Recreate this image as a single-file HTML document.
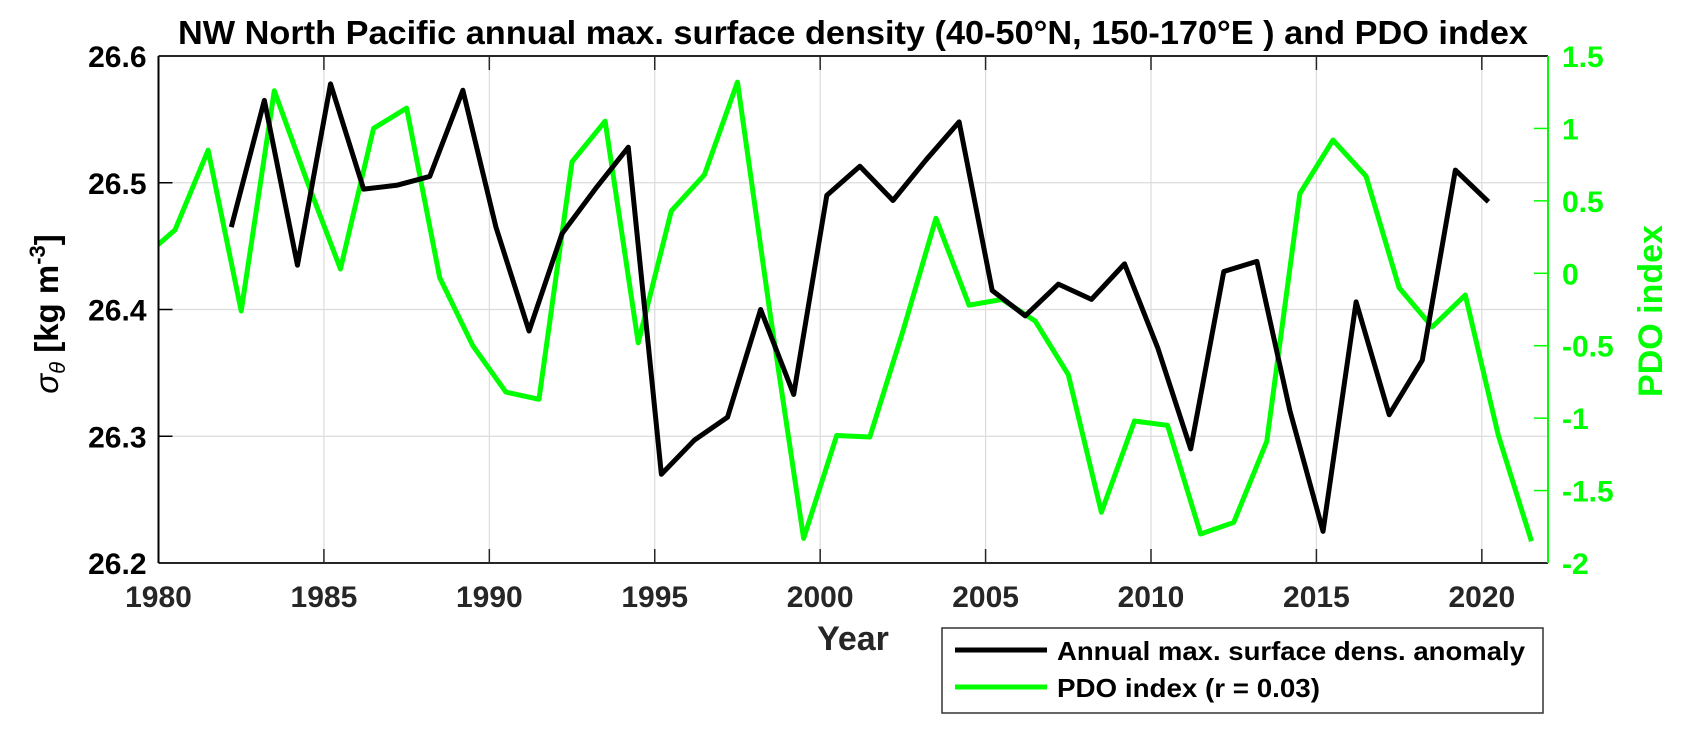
<!DOCTYPE html>
<html><head><meta charset="utf-8"><style>
body{margin:0;background:#fff;}
svg{display:block;font-family:"Liberation Sans",Arial,sans-serif;font-weight:bold;}
</style></head><body>
<svg id="chart" width="1682" height="732">
<g id="grid"></g>
<g id="series"></g>
<g id="axes"></g>
<text x="853" y="44" text-anchor="middle" font-size="33" textLength="1350" lengthAdjust="spacingAndGlyphs" fill="#000">NW North Pacific annual max. surface density (40-50°N, 150-170°E ) and PDO index</text>
<text x="853" y="650" text-anchor="middle" font-size="34" fill="#262626">Year</text>
<text transform="translate(58,314) rotate(-90)" text-anchor="middle" font-size="33" fill="#000"><tspan font-weight="normal" font-style="italic">σ</tspan><tspan font-size="22" dy="7" font-style="italic" font-weight="normal">θ</tspan><tspan dy="-7"> [kg m</tspan><tspan font-size="22" dy="-13">-3</tspan><tspan dy="13">]</tspan></text>
<text transform="translate(1662,311) rotate(-90)" text-anchor="middle" font-size="34" fill="#00ff00">PDO index</text>
<g>
<rect x="942" y="628" width="601" height="85" fill="#fff" stroke="#333" stroke-width="1.5"/>
<line x1="955" y1="650" x2="1047" y2="650" stroke="#000" stroke-width="5"/>
<text x="1057" y="660" font-size="26" textLength="468" lengthAdjust="spacingAndGlyphs" fill="#000">Annual max. surface dens. anomaly</text>
<line x1="955" y1="687" x2="1047" y2="687" stroke="#00ff00" stroke-width="5"/>
<text x="1057" y="697" font-size="26" textLength="263" lengthAdjust="spacingAndGlyphs" fill="#000">PDO index (r = 0.03)</text>
</g>
</svg>
<script>
const densYears=[1982.2,1983.2,1984.2,1985.2,1986.2,1987.2,1988.2,1989.2,1990.2,1991.2,1992.2,1993.2,1994.2,1995.2,1996.2,1997.2,1998.2,1999.2,2000.2,2001.2,2002.2,2003.2,2004.2,2005.2,2006.2,2007.2,2008.2,2009.2,2010.2,2011.2,2012.2,2013.2,2014.2,2015.2,2016.2,2017.2,2018.2,2019.2,2020.2];
const densValues=[26.465,26.565,26.435,26.578,26.495,26.498,26.505,26.573,26.465,26.383,26.46,26.495,26.528,26.27,26.297,26.315,26.4,26.333,26.49,26.513,26.486,26.518,26.548,26.415,26.395,26.42,26.408,26.436,26.37,26.29,26.43,26.438,26.32,26.225,26.406,26.317,26.36,26.51,26.485];
const pdoYears=[1979.5,1980.5,1981.5,1982.5,1983.5,1984.5,1985.5,1986.5,1987.5,1988.5,1989.5,1990.5,1991.5,1992.5,1993.5,1994.5,1995.5,1996.5,1997.5,1998.5,1999.5,2000.5,2001.5,2002.5,2003.5,2004.5,2005.5,2006.5,2007.5,2008.5,2009.5,2010.5,2011.5,2012.5,2013.5,2014.5,2015.5,2016.5,2017.5,2018.5,2019.5,2020.5,2021.5];
const pdoValues=[0.1,0.3,0.85,-0.26,1.26,0.63,0.03,1.0,1.14,-0.03,-0.5,-0.82,-0.87,0.77,1.05,-0.48,0.43,0.68,1.32,-0.3,-1.83,-1.12,-1.13,-0.4,0.38,-0.22,-0.18,-0.33,-0.7,-1.65,-1.02,-1.05,-1.8,-1.72,-1.16,0.55,0.92,0.67,-0.1,-0.37,-0.15,-1.12,-1.85];
const xTicks=[1980,1985,1990,1995,2000,2005,2010,2015,2020];
const yTicksLeft=[26.2,26.3,26.4,26.5,26.6];
const yTicksRight=[-2,-1.5,-1,-0.5,0,0.5,1,1.5];

const L=158.5,R=1548,T=56,B=563;
const xS=y=>L+(y-1980)*(R-L)/42;
const yL=v=>B-(v-26.2)*(B-T)/0.4;
const yR=v=>B-(v+2)*(B-T)/3.5;
const NS='http://www.w3.org/2000/svg';
function mk(tag,attrs,parent){const e=document.createElementNS(NS,tag);for(const k in attrs)e.setAttribute(k,attrs[k]);parent.appendChild(e);return e;}
const grid=document.getElementById('grid'),series=document.getElementById('series'),axes=document.getElementById('axes');

const defs=mk('defs',{},document.getElementById('chart'));
const cp=mk('clipPath',{id:'clip'},defs);mk('rect',{x:L,y:T,width:R-L,height:B-T},cp);

xTicks.forEach(t=>{const x=xS(t);
 const g=mk('line',{x1:x,y1:T,x2:x,y2:B,stroke:'#dcdcdc','stroke-width':1.2},grid);
 
 const k=mk('line',{x1:x,y1:B,x2:x,y2:B-14,stroke:'#262626','stroke-width':1.5},axes);
 
 const k2=mk('line',{x1:x,y1:T,x2:x,y2:T+14,stroke:'#262626','stroke-width':1.5},axes);
 
 const tx=mk('text',{x:x,y:B+44,'text-anchor':'middle','font-size':30,fill:'#262626'},axes);tx.textContent=t;
 
});
yTicksLeft.forEach(t=>{const y=yL(t);
 const g=mk('line',{x1:L,y1:y,x2:R,y2:y,stroke:'#dcdcdc','stroke-width':1.2},grid);
 
 const k=mk('line',{x1:L,y1:y,x2:L+14,y2:y,stroke:'#000','stroke-width':1.5},axes);
 
 const tx=mk('text',{x:L-12,y:y+11,'text-anchor':'end','font-size':30,fill:'#000'},axes);tx.textContent=t.toFixed(1);
 
});
yTicksRight.forEach(t=>{const y=yR(t);
 const k=mk('line',{x1:R,y1:y,x2:R-14,y2:y,stroke:'#00ff00','stroke-width':1.5},axes);
 
 const tx=mk('text',{x:R+14,y:y+11,'font-size':30,fill:'#00ff00'},axes);tx.textContent=String(t);
 
});
const bl=mk('line',{x1:L,y1:B,x2:R,y2:B,stroke:'#262626','stroke-width':2},axes);

const tl=mk('line',{x1:L,y1:T,x2:R,y2:T,stroke:'#262626','stroke-width':2},axes);

const ll=mk('line',{x1:L,y1:T,x2:L,y2:B,stroke:'#000','stroke-width':2},axes);

const rl=mk('line',{x1:R,y1:T,x2:R,y2:B,stroke:'#00ff00','stroke-width':2},axes);


const pg=mk('polyline',{points:pdoYears.map((y,i)=>xS(y)+','+yR(pdoValues[i])).join(' '),fill:'none',stroke:'#00ff00','stroke-width':5,'stroke-linejoin':'round','clip-path':'url(#clip)'},series);

const dl=mk('polyline',{points:densYears.map((y,i)=>xS(y)+','+yL(densValues[i])).join(' '),fill:'none',stroke:'#000','stroke-width':5,'stroke-linejoin':'round','clip-path':'url(#clip)'},series);

</script>
</body></html>
